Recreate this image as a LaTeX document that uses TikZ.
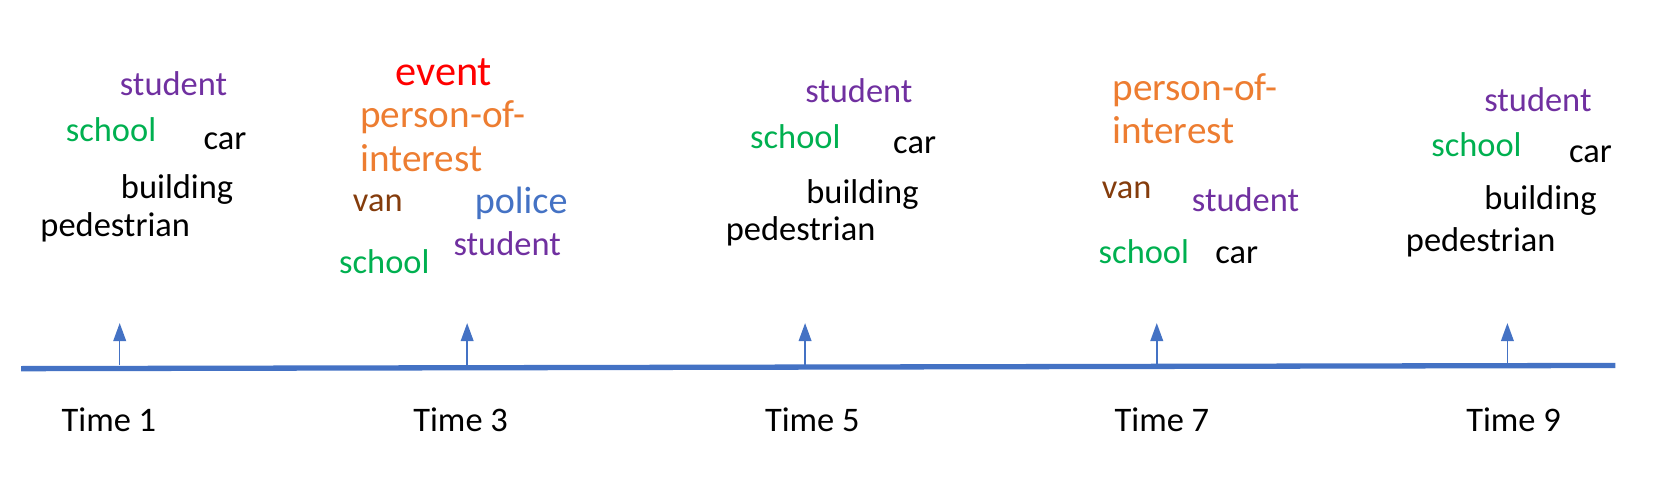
\documentclass[tikz,border=0pt]{standalone}
\usepackage{fontspec}
\setmainfont{Carlito}
\usetikzlibrary{arrows.meta}
\definecolor{cpurple}{HTML}{7030A0}
\definecolor{cgreen}{HTML}{00B050}
\definecolor{corange}{HTML}{ED7D31}
\definecolor{cred}{HTML}{FF0000}
\definecolor{cblue}{HTML}{4472C4}
\definecolor{cbrown}{HTML}{843C0C}
\tikzset{
  w/.style={anchor=base west, inner sep=0pt, font=\fontsize{32.5}{38}\selectfont},
  wbig/.style={w, font=\fontsize{37}{44}\selectfont},
  timeline/.style={draw=cblue, line width=5pt},
  tick/.style={draw=cblue, line width=1.5pt, -{Triangle[width=12pt,length=17pt]}, cblue},
  tlabel/.style={w, text=black},
}
\begin{document}
\begin{tikzpicture}[x=1pt,y=-1pt]
\useasboundingbox (0,0) rectangle (1568,451);
% timeline
\coordinate (L) at (20,348);
\coordinate (R) at (1525,345);
\draw[timeline] (L) -- (R);
% ticks
\foreach \n/\x in {1/113,3/441,5/760,7/1092,9/1423}{
  \coordinate (b\n) at (\x,345);
  \coordinate (t\n) at (\x,305);
  \draw[tick] (b\n) -- (t\n);
}
% time labels
\node[tlabel] (T1) at (58,407) {Time 1};
\node[tlabel] (T3) at (390,407) {Time 3};
\node[tlabel] (T5) at (722,407) {Time 5};
\node[tlabel] (T7) at (1052,407) {Time 7};
\node[tlabel] (T9) at (1384,407) {Time 9};
% Time 1
\node[w, text=cpurple] (s1) at (113,90) {student};
\node[w, text=cgreen] (sc1) at (62,134) {school};
\node[w] (c1) at (192,141) {car};
\node[w] (bu1) at (114,187) {building};
\node[w] (p1) at (38,223) {pedestrian};
% Time 3
\node[w, text=cred, font=\fontsize{40}{48}\selectfont] (e3) at (373,81) {event};
\node[wbig, text=corange] (po3) at (340,120) {person-of-};
\node[wbig, text=corange] (in3) at (340,162) {interest};
\node[w, text=cbrown] (v3) at (333,200) {van};
\node[w, text=cblue, font=\fontsize{36}{43}\selectfont] (pol3) at (448,202) {police};
\node[w, text=cpurple] (s3) at (428,241) {student};
\node[w, text=cgreen] (sc3) at (320,258) {school};
% Time 5
\node[w, text=cpurple] (s5) at (760,97) {student};
\node[w, text=cgreen] (sc5) at (708,140) {school};
\node[w] (c5) at (843,145) {car};
\node[w] (bu5) at (761,192) {building};
\node[w] (p5) at (685,227) {pedestrian};
% Time 7
\node[wbig, text=corange] (po7) at (1050,95) {person-of-};
\node[wbig, text=corange] (in7) at (1050,135) {interest};
\node[w, text=cbrown] (v7) at (1040,187) {van};
\node[w, text=cpurple] (s7) at (1125,200) {student};
\node[w, text=cgreen] (sc7) at (1037,249) {school};
\node[w] (c7) at (1147,249) {car};
% Time 9
\node[w, text=cpurple] (s9) at (1401,105) {student};
\node[w, text=cgreen] (sc9) at (1351,148) {school};
\node[w] (c9) at (1481,153) {car};
\node[w] (bu9) at (1401,198) {building};
\node[w] (p9) at (1327,237) {pedestrian};
\end{tikzpicture}
\end{document}
